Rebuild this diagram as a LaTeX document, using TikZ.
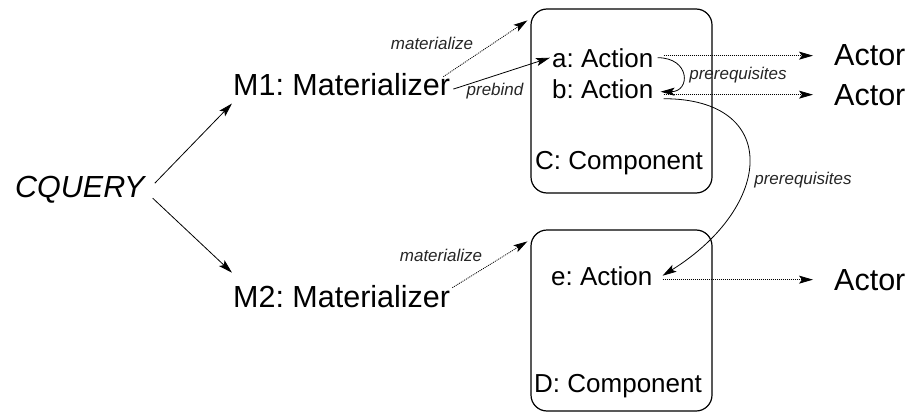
\documentclass[tikz,border=0pt]{standalone}
\usepackage{fontspec}
\setmainfont{Liberation Sans}
\usetikzlibrary{arrows.meta}
\frenchspacing
\newcommand{\outerfont}{\fontsize{30.5}{36}\selectfont}
\newcommand{\innerfont}{\fontsize{26}{31}\selectfont}
\newcommand{\labelfont}{\fontsize{17}{20}\selectfont\itshape}
\tikzset{
  bigtext/.style={inner sep=0pt, anchor=base west, font=\outerfont},
  midtext/.style={inner sep=0pt, anchor=base west, font=\innerfont},
  lbl/.style={inner sep=0pt, font=\labelfont, text=black!85},
  comp/.style={draw, rounded corners=16pt, line width=1.2pt, minimum width=181pt, inner sep=0pt},
  link/.style={-{Stealth[length=14pt,width=8pt,inset=3pt]}, line width=0.8pt},
  dots/.style={link, dash pattern=on 1pt off 1pt},
}
\begin{document}
\begin{tikzpicture}[x=1pt,y=-1pt]
\useasboundingbox (0,0) rectangle (907,412);
% components
\node[comp, minimum height=184pt] (compc) at (621.5,101) {};
\node[comp, minimum height=181pt] (compd) at (621.5,320.5) {};
% texts
\node[bigtext, font=\outerfont\itshape] (cquery) at (15,197) {CQUERY};
\node[bigtext] (m1) at (233,95) {M1: Materializer};
\node[bigtext] (m2) at (233,307) {M2: Materializer};
\node[midtext] (acta) at (552,67) {a: Action};
\node[midtext] (actb) at (552,98) {b: Action};
\node[midtext] (acte) at (551,285) {e: Action};
\node[midtext] (namec) at (535,169) {C: Component};
\node[midtext] (named) at (534,392) {D: Component};
\node[bigtext] (actor1) at (834,66) {Actor};
\node[bigtext] (actor2) at (834,105) {Actor};
\node[bigtext] (actor3) at (834,290) {Actor};
% labels
\node[lbl] (mat1) at (432,43) {materialize};
\node[lbl] (prebind) at (495,91) {prebind};
\node[lbl] (mat2) at (441,255) {materialize};
\node[lbl] (pre1) at (738,75) {prerequisites};
\node[lbl] (pre2) at (803,180) {prerequisites};
% connectors
\draw[link] ([shift={(10,-6)}]cquery.east) -- ([shift={(-1,8)}]m1.south west);
\draw[link] ([shift={(8,9)}]cquery.east) -- ([shift={(-1,-12)}]m2.north west);
\draw[dots] ([shift={(-7,4)}]m1.north east) -- ([shift={(-3,12)}]compc.north west);
\draw[link] ([shift={(3,5)}]m1.east) -- ([xshift=-2pt]acta.west);
\draw[dots] ([shift={(2,3)}]m2.north east) -- ([shift={(-3,12)}]compd.north west);
\draw[dots, shorten <=10pt, shorten >=21pt] (actor1.west -| acta.east) -- (actor1.west);
\draw[dots, shorten <=10pt, shorten >=21pt] (actor2.west -| actb.east) -- (actor2.west);
\draw[dots, shorten <=10pt, shorten >=21pt] (actor3.west -| acte.east) -- (actor3.west);
\draw[link] ([xshift=4pt]acta.east) .. controls +(33,0) and +(30,0) .. ([shift={(7,3)}]actb.east);
\draw[link] ([shift={(10,10)}]actb.east) .. controls +(117,0) and +(112,-70) .. ([xshift=10pt]acte.east);
\end{tikzpicture}
\end{document}
